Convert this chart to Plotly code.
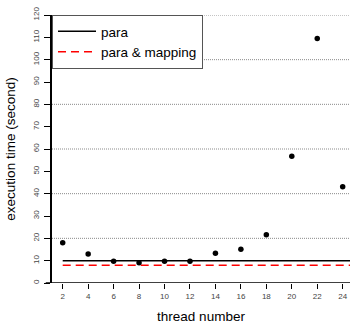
import plotly.graph_objects as go

# Execution time per thread count
threads = [2, 4, 6, 8, 10, 12, 14, 16, 18, 20, 22, 24]
exec_time = [18.0, 13.0, 9.7, 9.1, 9.7, 9.7, 13.3, 15.1, 21.6, 56.8, 109.5, 43.1]

# Reference levels
para_level = 10.0
para_mapping_level = 8.0

y_ticks = list(range(0, 121, 10))
grid_levels = list(range(20, 121, 20))
x_ticks = list(range(2, 25, 2))

X_RANGE = [1.159, 24.574]
Y_RANGE = [0, 120]

FONT = "Liberation Sans, Arial, Helvetica, sans-serif"

fig = go.Figure()

line_x = [threads[0], X_RANGE[1]]
fig.add_trace(go.Scatter(
    x=line_x, y=[para_level, para_level], mode="lines", name="para",
    line=dict(color="black", width=1.5),
))
fig.add_trace(go.Scatter(
    x=line_x, y=[para_mapping_level, para_mapping_level], mode="lines",
    name="para & mapping",
    line=dict(color="#ff0000", width=1.5, dash="8px,5px"),
))
fig.add_trace(go.Scatter(
    x=threads, y=exec_time, mode="markers", showlegend=False,
    marker=dict(color="black", size=5.5),
))

# dotted horizontal guides every 20 seconds
for g in grid_levels:
    fig.add_shape(type="line", xref="paper", yref="y", x0=0, x1=1, y0=g, y1=g,
                  line=dict(color="#8a8a8a", width=1, dash="1px,1px"), layer="below")

# bottom axis line, extended slightly left of the y axis
fig.add_shape(type="line", xref="paper", yref="y", x0=-0.021, x1=1, y0=0, y1=0,
              line=dict(color="black", width=1.5))

fig.update_layout(
    width=350, height=324,
    margin=dict(l=52, r=0, t=15, b=41),
    paper_bgcolor="white", plot_bgcolor="white",
    font=dict(family=FONT, color="black"),
    showlegend=True,
    legend=dict(
        x=0, y=1, xanchor="left", yanchor="top",
        bgcolor="white", bordercolor="#555555", borderwidth=1,
        font=dict(size=13.5, family=FONT, color="black"),
        tracegroupgap=0, itemwidth=38,
    ),
    xaxis=dict(
        range=X_RANGE, tickvals=x_ticks, ticktext=[str(t) for t in x_ticks],
        showgrid=False, zeroline=False, showline=False,
        ticks="outside", ticklen=5, tickwidth=1, tickcolor="black",
        tickfont=dict(size=8, color="#444444"),
        title=dict(text="thread number", font=dict(size=13.5), standoff=13),
    ),
    yaxis=dict(
        range=Y_RANGE, tickvals=y_ticks, ticktext=[str(t) for t in y_ticks],
        showgrid=False, zeroline=False,
        showline=True, linecolor="black", linewidth=1.5,
        ticks="outside", ticklen=6, tickwidth=1, tickcolor="black",
        tickangle=-90, tickfont=dict(size=8, color="#444444"),
        ticklabelstandoff=2,
        title=dict(text="execution time (second)", font=dict(size=13.5), standoff=13),
    ),
)

fig.write_html("out.html")
